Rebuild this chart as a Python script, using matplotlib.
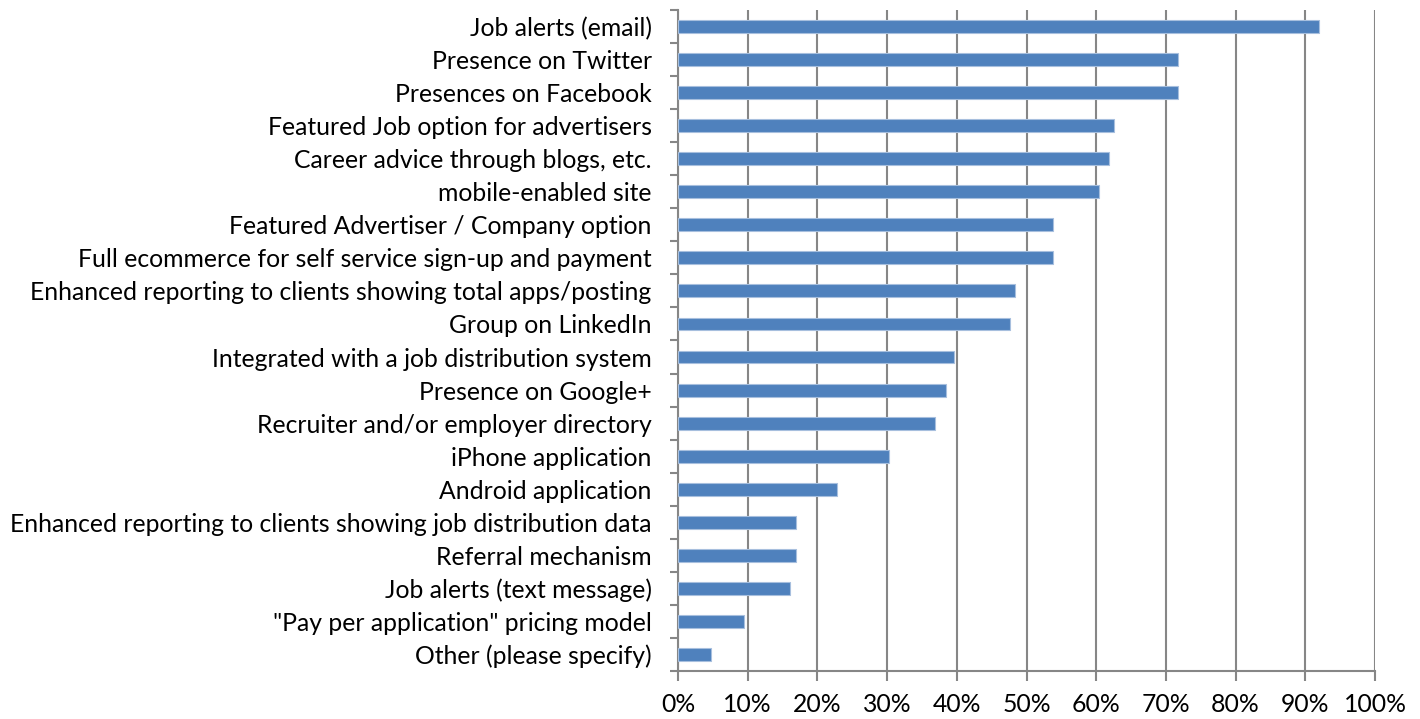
import numpy as np
import matplotlib.pyplot as plt
from matplotlib.ticker import FixedLocator

features = [
    "Job alerts (email)",
    "Presence on Twitter",
    "Presences on Facebook",
    "Featured Job option for advertisers",
    "Career advice through blogs, etc.",
    "mobile-enabled site",
    "Featured Advertiser / Company option",
    "Full ecommerce for self service sign-up and payment",
    "Enhanced reporting to clients showing total apps/posting",
    "Group on LinkedIn",
    "Integrated with a job distribution system",
    "Presence on Google+",
    "Recruiter and/or employer directory",
    "iPhone application",
    "Android application",
    "Enhanced reporting to clients showing job distribution data",
    "Referral mechanism",
    "Job alerts (text message)",
    "\"Pay per application\" pricing model",
    "Other (please specify)",
]
share = [92.0, 71.8, 71.8, 62.5, 61.8, 60.4, 53.8, 53.8, 48.3, 47.7,
         39.6, 38.4, 36.9, 30.3, 22.8, 16.9, 16.9, 16.1, 9.4, 4.7]
xticks = list(range(0, 101, 10))

plt.rcParams['font.family'] = ['Lato', 'DejaVu Sans']

fig = plt.figure(figsize=(14.2, 7.19), dpi=100)
ax = fig.add_axes([0.4775, 0.0668, 0.4908, 0.9193])

grid_col = '#868686'
y = np.arange(len(features))
ax.barh(y, share, height=0.39, color='#4F81BD', edgecolor='#A7BFDE',
        linewidth=0.8, zorder=3)

ax.set_ylim(len(features) - 0.5, -0.5)
ax.set_xlim(0, 100)

ax.set_yticks(y)
ax.set_yticklabels(features, fontsize=17.8)
ax.yaxis.set_minor_locator(FixedLocator(np.arange(-0.5, len(features), 1)))
ax.tick_params(axis='y', which='major', length=0, pad=19)
ax.tick_params(axis='y', which='minor', length=6, width=1.5, color=grid_col)

ax.set_xticks(xticks)
ax.set_xticklabels([f"{t}%" for t in xticks], fontsize=17.8)
ax.tick_params(axis='x', length=7, width=1.5, color=grid_col, pad=9)

ax.grid(axis='x', color=grid_col, linewidth=1.5, zorder=0)
for side in ['top', 'right']:
    ax.spines[side].set_visible(False)
for side in ['left', 'bottom']:
    ax.spines[side].set_color(grid_col)
    ax.spines[side].set_linewidth(1.5)

fig.savefig('out.png', dpi=100)
